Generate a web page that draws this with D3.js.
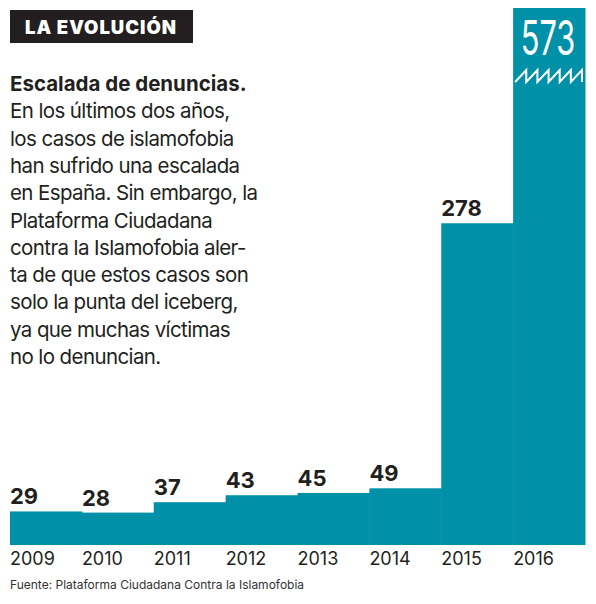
<!DOCTYPE html>
<html>
<head>
<meta charset="utf-8">
<script src="https://cdn.jsdelivr.net/npm/d3@7"></script>
<style>
  body { margin: 0; background: #fff; }
  text { font-family: Inter, "Noto Sans", sans-serif; fill: #231f20; }
</style>
</head>
<body>
<div id="chart"></div>
<script>
(function() {
  // data
  var years = ["2009", "2010", "2011", "2012", "2013", "2014", "2015", "2016"]
  var cases = [29, 28, 37, 43, 45, 49, 278, 573]

  var title = "LA EVOLUCIÓN"
  var lead = "Escalada de denuncias."
  var bodyLines = [
    "En los últimos dos años,",
    "los casos de islamofobia",
    "han sufrido una escalada",
    "en España. Sin embargo, la",
    "Plataforma Ciudadana",
    "contra la Islamofobia aler-",
    "ta de que estos casos son",
    "solo la punta del iceberg,",
    "ya que muchas víctimas",
    "no lo denuncian."
  ]
  var source = "Fuente: Plataforma Ciudadana Contra la Islamofobia"

  var width = 596, height = 604
  var teal = "#0090a8"

  var svg = d3.select("#chart").append("svg")
      .attr("width", width)
      .attr("height", height)

  // scales
  var xScale = d3.scaleBand().domain(years).range([10, 585]).padding(0)
  // top of the drawing area is y=8, the 2016 bar gets cut off there
  var yScale = d3.scaleLinear().domain([0, 464]).range([545, 8]).clamp(true)

  // header box
  svg.append("rect")
    .attr("x", 10).attr("y", 10)
    .attr("width", 183).attr("height", 33)
    .attr("fill", "#231f20")
  svg.append("text")
    .attr("x", 25).attr("y", 34)
    .attr("font-size", 18.5)
    .attr("font-weight", 900)
    .attr("letter-spacing", 1)
    .style("fill", "#fff")
    .text(title)

  // intro text
  svg.append("text")
    .attr("x", 10).attr("y", 91)
    .attr("font-size", 20.5)
    .attr("font-weight", 700)
    .text(lead)

  svg.selectAll(".body-line")
    .data(bodyLines)
    .enter().append("text")
    .attr("class", "body-line")
    .attr("x", 10)
    .attr("y", function(d, i) { return 91 + 27.3 * (i + 1) })
    .attr("font-size", 20.5)
    .attr("letter-spacing", -0.6)
    .text(function(d) { return d })

  var rows = years.map(function(y, i) { return { year: y, value: cases[i] } })

  // bars
  svg.selectAll(".bar")
    .data(rows)
    .enter().append("rect")
    .attr("class", "bar")
    .attr("x", function(d) { return xScale(d.year) })
    .attr("width", xScale.bandwidth() + 0.5)
    .attr("y", function(d) { return yScale(d.value) })
    .attr("height", function(d) { return yScale(0) - yScale(d.value) })
    .attr("fill", teal)

  // value labels above the bars that fit
  svg.selectAll(".val")
    .data(rows.filter(function(d) { return d.value < 464 }))
    .enter().append("text")
    .attr("class", "val")
    .attr("x", function(d) { return xScale(d.year) })
    .attr("y", function(d) { return yScale(d.value) - 7 })
    .attr("font-size", 22)
    .attr("font-weight", 700)
    .text(function(d) { return d.value })

  // the broken bar: big number inside plus a zigzag cut
  var big = rows.filter(function(d) { return d.value >= 464 })
  big.forEach(function(d) {
    var x0 = xScale(d.year), bw = xScale.bandwidth()
    svg.append("text")
      .attr("transform", "translate(" + (x0 + bw / 2 - 1) + ",55) scale(0.64,1)")
      .attr("text-anchor", "middle")
      .attr("font-family", "Roboto, sans-serif")
      .attr("font-size", 48)
      .style("fill", "#fff")
      .text(d.value)

    var teeth = 6, zx0 = x0 + 2, zx1 = x0 + bw - 3, top = 70, bottom = 82
    var step = (zx1 - zx0) / teeth
    var pts = [[zx0, bottom]]
    for (var i = 1; i <= teeth; i++) {
      pts.push([zx0 + step * i, top])
      pts.push([zx0 + step * i, bottom])
    }
    svg.append("path")
      .attr("d", d3.line()(pts))
      .attr("fill", "none")
      .attr("stroke", "#fff")
      .attr("stroke-width", 2)
  })

  // year axis
  var xAxis = d3.axisBottom(xScale).tickSize(0).tickPadding(0)
  var axisG = svg.append("g")
    .attr("class", "axis x-axis")
    .attr("transform", "translate(0,545)")
    .call(xAxis)
  axisG.select(".domain").remove()
  axisG.selectAll("text")
    .attr("x", -xScale.bandwidth() / 2)
    .attr("y", 20)
    .attr("dy", 0)
    .attr("text-anchor", "start")
    .attr("font-family", "Inter, sans-serif")
    .attr("font-size", 18)
    .style("fill", "#231f20")

  // source
  svg.append("text")
    .attr("x", 10).attr("y", 589)
    .attr("font-size", 12)
    .style("fill", "#333")
    .text(source)
})()
</script>
</body>
</html>
